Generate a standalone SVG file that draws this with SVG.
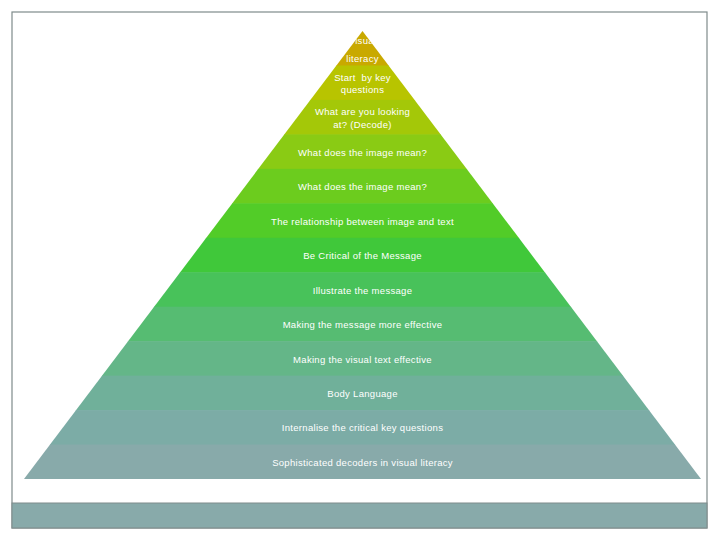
<svg xmlns="http://www.w3.org/2000/svg" width="720" height="540" viewBox="0 0 720 540">
<defs>
<clipPath id="pyr"><polygon points="362.5,31 701,479 24,479"/></clipPath>
<style>
.t{font-family:"Liberation Sans","DejaVu Sans",sans-serif;font-size:9.5px;fill:#ffffff;text-anchor:middle;letter-spacing:0.3px}
.b{stroke:none}
</style>
</defs>
<rect x="0" y="0" width="720" height="540" fill="#ffffff"/>
<rect x="12" y="12" width="695" height="516" fill="#ffffff" stroke="#7f8b8b" stroke-width="1.2"/>
<rect id="footer" x="12" y="503" width="695" height="25" fill="#88aaaa" stroke="#7f8b8b" stroke-width="1"/>
<g id="pyramid" clip-path="url(#pyr)">
<g id="band1"><rect class="b" x="0" y="31" width="720" height="35" fill="#c9a900"/><text class="t" x="362.5" y="43.5">Visual</text><text class="t" x="362.5" y="61.5">literacy</text></g>
<g id="band2"><rect class="b" x="0" y="65.46" width="720" height="35" fill="#b8c400"/><text class="t" x="362.5" y="80.5" xml:space="preserve">Start  by key</text><text class="t" x="362.5" y="93">questions</text></g>
<g id="band3"><rect class="b" x="0" y="99.92" width="720" height="35" fill="#a4c808"/><text class="t" x="362.5" y="115">What are you looking</text><text class="t" x="362.5" y="127.5">at? (Decode)</text></g>
<g id="band4"><rect class="b" x="0" y="134.38" width="720" height="35" fill="#8acb14"/><text class="t" x="362.5" y="156">What does the image mean?</text></g>
<g id="band5"><rect class="b" x="0" y="168.85" width="720" height="35" fill="#6ccc1e"/><text class="t" x="362.5" y="189.5">What does the image mean?</text></g>
<g id="band6"><rect class="b" x="0" y="203.31" width="720" height="35" fill="#52cc28"/><text class="t" x="362.5" y="224.5">The relationship between image and text</text></g>
<g id="band7"><rect class="b" x="0" y="237.77" width="720" height="35" fill="#40c83a"/><text class="t" x="362.5" y="258.5">Be Critical of the Message</text></g>
<g id="band8"><rect class="b" x="0" y="272.23" width="720" height="35" fill="#48c25a"/><text class="t" x="362.5" y="293.5">Illustrate the message</text></g>
<g id="band9"><rect class="b" x="0" y="306.69" width="720" height="35" fill="#56bc72"/><text class="t" x="362.5" y="327.5">Making the message more effective</text></g>
<g id="band10"><rect class="b" x="0" y="341.15" width="720" height="35" fill="#64b688"/><text class="t" x="362.5" y="362.5">Making the visual text effective</text></g>
<g id="band11"><rect class="b" x="0" y="375.62" width="720" height="35" fill="#70b09a"/><text class="t" x="362.5" y="396.5">Body Language</text></g>
<g id="band12"><rect class="b" x="0" y="410.08" width="720" height="35" fill="#7caca6"/><text class="t" x="362.5" y="430.5">Internalise the critical key questions</text></g>
<g id="band13"><rect class="b" x="0" y="444.54" width="720" height="35" fill="#88aaaa"/><text class="t" x="362.5" y="465.5">Sophisticated decoders in visual literacy</text></g>
</g>
<g id="connectors"></g>
</svg>
